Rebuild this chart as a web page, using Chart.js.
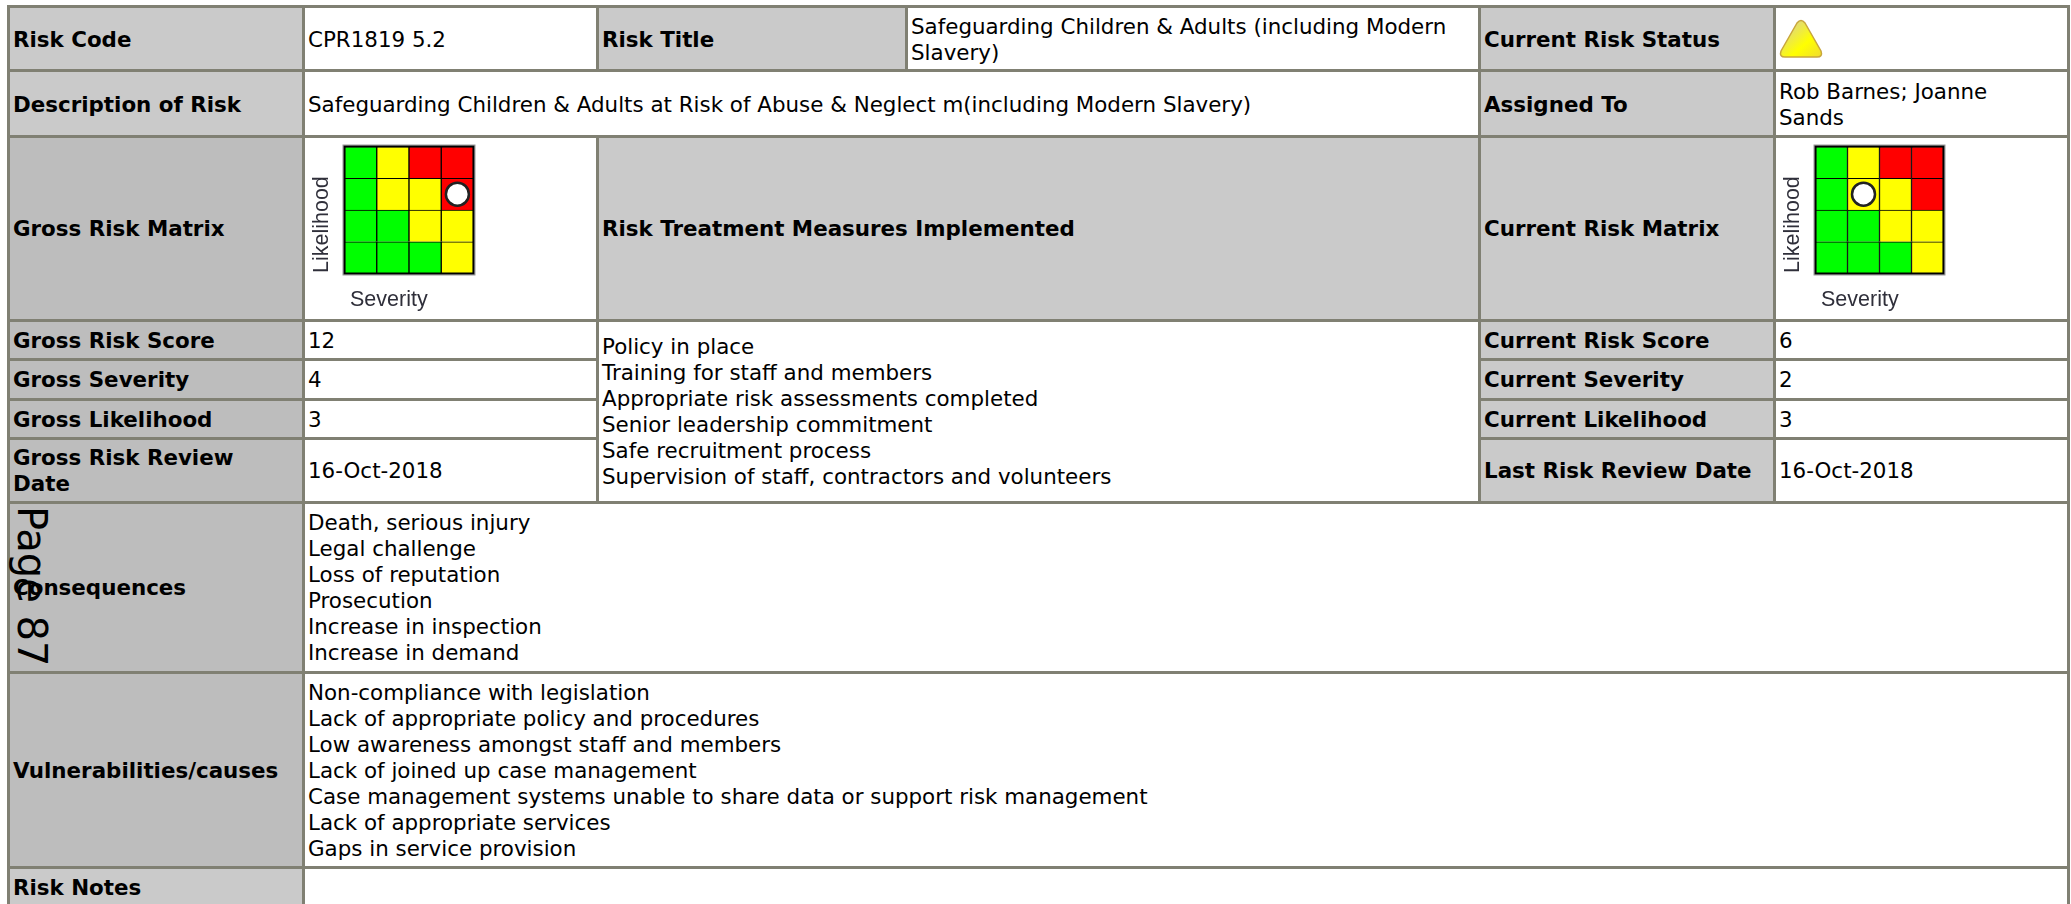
<!DOCTYPE html>
<html>
<head>
<meta charset="utf-8">
<title>Risk CPR1819 5.2</title>
<script src="https://cdn.jsdelivr.net/npm/chart.js@4"></script>
<style>
html, body { margin: 0; padding: 0; width: 2071px; height: 904px; overflow: hidden; background: #fff; }
body { position: relative; font-family: "DejaVu Sans", sans-serif; font-size: 21.4px; line-height: 26px; color: #000; }
table { position: absolute; left: 7px; top: 5px; width: 2060px; table-layout: fixed; border-collapse: collapse; }
td { border: 3px solid #808073; padding: 1px 3px 0; vertical-align: middle; overflow: hidden; }
td.lab { font-weight: bold; background: #cacaca; }
td.dark { background: #bdbdbd; }
td.plot { padding: 0; }
tr.top td { padding-top: 3px; }
.matrix { position: absolute; top: 139px; }
#page { position: absolute; left: 8px; top: 506px; font-size: 40px; line-height: 48px; white-space: nowrap; transform-origin: 0 0; transform: translate(48px, 0) rotate(90deg); }
#status { position: absolute; left: 1778px; top: 18px; }
</style>
</head>
<body>
<table id="sheet">
<colgroup><col style="width:295px"><col style="width:294px"><col style="width:309px"><col style="width:573px"><col style="width:295px"><col style="width:294px"></colgroup>
<tbody id="rows"></tbody>
</table>
<canvas id="grossMatrix" class="matrix" width="200" height="179" style="left:305px"></canvas>
<canvas id="currentMatrix" class="matrix" width="200" height="179" style="left:1776px"></canvas>
<svg id="status" width="46" height="42" viewBox="0 0 46 42">
  <defs><linearGradient id="amber" x1="0" y1="0" x2="1" y2="1"><stop offset="0.1" stop-color="#d9cf9a"/><stop offset="0.62" stop-color="#ffff00"/><stop offset="1" stop-color="#f0dc30"/></linearGradient></defs>
  <path d="M19 5 Q23 0 27 5 L43 33 Q45 39 39 39 L7 39 Q1 39 3 33 Z" fill="url(#amber)" stroke="#c8a63c" stroke-width="1.5" stroke-linejoin="round"/>
</svg>
<div id="page">Page 87</div>
<script>
// risk details
const riskCode = 'CPR1819 5.2';
const riskTitle = 'Safeguarding Children & Adults (including Modern Slavery)';
const riskDescription = 'Safeguarding Children & Adults at Risk of Abuse & Neglect m(including Modern Slavery)';
const assignedTo = ['Rob Barnes; Joanne', 'Sands'];
const reviewDate = '16-Oct-2018';
const treatmentMeasures = ['Policy in place', 'Training for staff and members', 'Appropriate risk assessments completed', 'Senior leadership commitment', 'Safe recruitment process', 'Supervision of staff, contractors and volunteers'];
const consequences = ['Death, serious injury', 'Legal challenge', 'Loss of reputation', 'Prosecution', 'Increase in inspection', 'Increase in demand'];
const vulnerabilities = ['Non-compliance with legislation', 'Lack of appropriate policy and procedures', 'Low awareness amongst staff and members', 'Lack of joined up case management', 'Case management systems unable to share data or support risk management', 'Lack of appropriate services', 'Gaps in service provision'];

// scores
const grossScore = 12, grossSeverity = 4, grossLikelihood = 3;
const currentScore = 6, currentSeverity = 2, currentLikelihood = 3;

// matrix, bottom row first
const severityLabels = ['1', '2', '3', '4'];
const cellSpan = [1, 1, 1, 1];
const likelihood1 = ['low', 'low', 'low', 'medium'];
const likelihood2 = ['low', 'low', 'medium', 'medium'];
const likelihood3 = ['low', 'medium', 'medium', 'high'];
const likelihood4 = ['low', 'medium', 'high', 'high'];
const bandColors = { low: '#00ff00', medium: '#ffff00', high: '#ff0000' };

function cell(text, cls, attrs) {
	return `<td class="${cls || ''}" ${attrs || ''}>${text.replace(/&/g, '&amp;')}</td>`;
}

const rowData = [
	[64, cell('Risk Code', 'lab') + cell(riskCode) + cell('Risk Title', 'lab') + cell(riskTitle) + cell('Current Risk Status', 'lab') + cell('', 'plot'), 'top'],
	[66, cell('Description of Risk', 'lab') + cell(riskDescription, '', 'colspan="3"') + cell('Assigned To', 'lab') + cell(assignedTo.join('<br>')), 'top'],
	[184, cell('Gross Risk Matrix', 'lab dark') + cell('', 'plot') + cell('Risk Treatment Measures Implemented', 'lab', 'colspan="2"') + cell('Current Risk Matrix', 'lab') + cell('', 'plot')],
	[39, cell('Gross Risk Score', 'lab dark') + cell('' + grossScore) + cell(treatmentMeasures.join('<br>'), '', 'colspan="2" rowspan="4"') + cell('Current Risk Score', 'lab') + cell('' + currentScore)],
	[40, cell('Gross Severity', 'lab dark') + cell('' + grossSeverity) + cell('Current Severity', 'lab') + cell('' + currentSeverity)],
	[39, cell('Gross Likelihood', 'lab dark') + cell('' + grossLikelihood) + cell('Current Likelihood', 'lab') + cell('' + currentLikelihood)],
	[64, cell('Gross Risk Review<br>Date', 'lab dark') + cell(reviewDate) + cell('Last Risk Review Date', 'lab') + cell(reviewDate)],
	[170, cell('Consequences', 'lab dark') + cell(consequences.join('<br>'), '', 'colspan="5"')],
	[195, cell('Vulnerabilities/causes', 'lab dark') + cell(vulnerabilities.join('<br>'), '', 'colspan="5"')],
	[40, cell('Risk Notes', 'lab') + cell('', '', 'colspan="5"')]
];
document.getElementById('rows').innerHTML = rowData.map(r => `<tr class="${r[2] || ''}" style="height:${r[0]}px">${r[1]}</tr>`).join('');

// outline and axis words around the grid
const matrixLabels = {
	id: 'matrixLabels',
	afterDatasetsDraw(chart) {
		const ctx = chart.ctx, area = chart.chartArea;
		const w = area.right - area.left, h = area.bottom - area.top;
		ctx.save();
		ctx.strokeStyle = '#9a9a9a';
		ctx.lineWidth = 1;
		ctx.strokeRect(area.left - 1.5, area.top - 1.5, w + 3, h + 3);
		ctx.strokeStyle = '#000';
		ctx.lineWidth = 2;
		ctx.strokeRect(area.left, area.top, w, h);
		ctx.fillStyle = '#2f2f3a';
		ctx.font = '21.5px "Liberation Sans"';
		ctx.textBaseline = 'alphabetic';
		ctx.fillText('Severity', area.left + 5.5, area.bottom + 32.5);
		ctx.translate(area.left - 16.5, area.bottom - 0.5);
		ctx.rotate(-Math.PI / 2);
		ctx.fillText('Likelihood', 0, 0);
		ctx.restore();
	}
};

function bandRow(bands) {
	return {
		data: cellSpan,
		stack: 'matrix',
		order: 1,
		backgroundColor: bands.map(b => bandColors[b]),
		borderColor: '#000',
		borderWidth: 1,
		barPercentage: 1,
		categoryPercentage: 1
	};
}

function makeMatrix(id, severity, likelihood, padLeft, padRight) {
	const ctx = document.getElementById(id).getContext('2d');
	return new Chart(ctx, {
		type: 'bar',
		plugins: [matrixLabels],
		data: {
			labels: severityLabels,
			datasets: [
				bandRow(likelihood1), bandRow(likelihood2), bandRow(likelihood3), bandRow(likelihood4),
				{
					type: 'scatter',
					order: 0,
					showLine: false,
					data: [{ x: String(severity), y: likelihood - 0.5 }],
					pointRadius: 11.5,
					pointBackgroundColor: '#fff',
					pointBorderColor: '#222',
					pointBorderWidth: 2.5
				}
			]
		},
		options: {
			responsive: false,
			animation: false,
			devicePixelRatio: 1,
			layout: { autoPadding: false, padding: { left: padLeft, right: padRight, top: 7.5, bottom: 44.5 } },
			plugins: { legend: { display: false }, tooltip: { enabled: false } },
			scales: {
				x: { display: false },
				y: { display: false, min: 0, max: 4 }
			}
		}
	});
}

makeMatrix('grossMatrix', grossSeverity, grossLikelihood, 39.5, 31.5);
makeMatrix('currentMatrix', currentSeverity, currentLikelihood, 39.5, 32.5);
</script>
</body>
</html>
